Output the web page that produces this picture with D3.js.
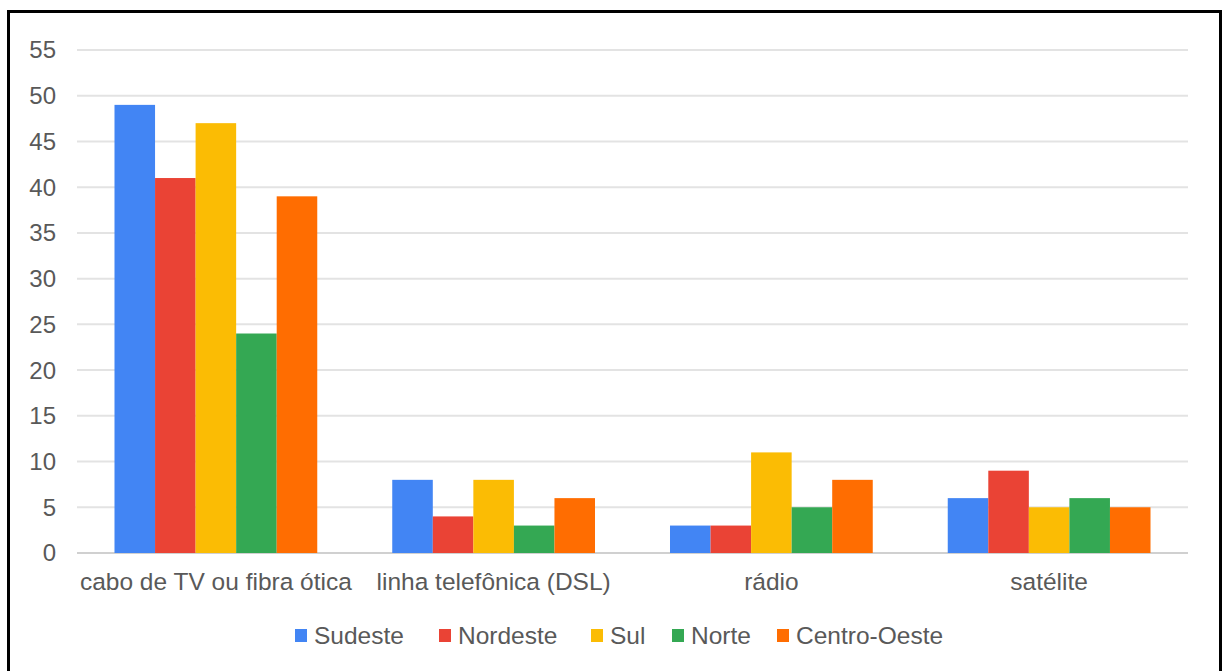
<!DOCTYPE html>
<html><head><meta charset="utf-8">
<script src="https://cdn.jsdelivr.net/npm/d3@7"></script>
<style>body{margin:0;background:#fff;overflow:hidden}svg{display:block}</style>
</head><body>
<script>
const categories = ["cabo de TV ou fibra ótica", "linha telefônica (DSL)", "rádio", "satélite"];
const seriesNames = ["Sudeste", "Nordeste", "Sul", "Norte", "Centro-Oeste"];
const sudeste = [49, 8, 3, 6];
const nordeste = [41, 4, 3, 9];
const sul = [47, 8, 11, 5];
const norte = [24, 3, 5, 6];
const centroOeste = [39, 6, 8, 5];
const seriesColors = ["#4285F4", "#EA4335", "#FBBC04", "#34A853", "#FF6D01"];
const yTicks = [0, 5, 10, 15, 20, 25, 30, 35, 40, 45, 50, 55];

const seriesValues = [sudeste, nordeste, sul, norte, centroOeste];
const W = 1223, H = 671;
const svg = d3.select("body").append("svg").attr("width", W).attr("height", H);
const font = "'Liberation Sans', Arial, sans-serif";
const textColor = "#595959";

const mLeft = 77, mRight = 1188, mTop = 50, mBottom = 553;
const x0 = d3.scaleBand().domain(categories).range([mLeft, mRight]).paddingInner(0.27).paddingOuter(0.135);
const x1 = d3.scaleBand().domain(seriesNames).range([0, x0.bandwidth()]);
const y = d3.scaleLinear().domain([0, 55]).range([mBottom, mTop]);

// gridlines
svg.append("g").selectAll("line").data(yTicks).join("line")
  .attr("x1", mLeft).attr("x2", mRight)
  .attr("y1", d => y(d)).attr("y2", d => y(d))
  .attr("stroke", d => d === 0 ? "#d0d0d0" : "#e3e3e3").attr("stroke-width", 2);

// y axis labels
const yAxis = d3.axisLeft(y).tickValues(yTicks).tickSize(0).tickPadding(0);
const ya = svg.append("g").attr("transform", `translate(56,0)`).call(yAxis);
ya.select(".domain").remove();
ya.selectAll("text").attr("font-family", font).attr("font-size", 24).attr("fill", textColor).attr("dy", "0.33em");

// bars
const groups = svg.append("g").selectAll("g").data(categories).join("g")
  .attr("transform", d => `translate(${x0(d)},0)`);
groups.selectAll("rect").data((c, ci) => seriesNames.map((s, si) => ({s, si, v: seriesValues[si][ci]})))
  .join("rect")
  .attr("x", d => x1(d.s)).attr("width", x1.bandwidth())
  .attr("y", d => y(d.v)).attr("height", d => y(0) - y(d.v))
  .attr("fill", d => seriesColors[d.si]);

// x axis labels
const xAxis = d3.axisBottom(x0).tickSize(0).tickPadding(0);
const xa = svg.append("g").attr("transform", `translate(0,${mBottom + 37})`).call(xAxis);
xa.select(".domain").remove();
xa.selectAll("text").attr("font-family", font).attr("font-size", 24.5).attr("fill", textColor).attr("dy", 0);

// legend
const legendX = [295, 439, 591, 672, 777];
const lg = svg.append("g").selectAll("g").data(seriesNames).join("g")
  .attr("transform", (d, i) => `translate(${legendX[i]},629)`);
lg.append("rect").attr("width", 12).attr("height", 13).attr("fill", (d, i) => seriesColors[i]);
lg.append("text").attr("x", 19).attr("y", 15).text(d => d)
  .attr("font-family", font).attr("font-size", 24.5).attr("fill", textColor);

// frame
svg.append("rect").attr("x", 8.5).attr("y", 11.5).attr("width", 1212).attr("height", 700)
  .attr("fill", "none").attr("stroke", "#000").attr("stroke-width", 3);
</script>
</body></html>
